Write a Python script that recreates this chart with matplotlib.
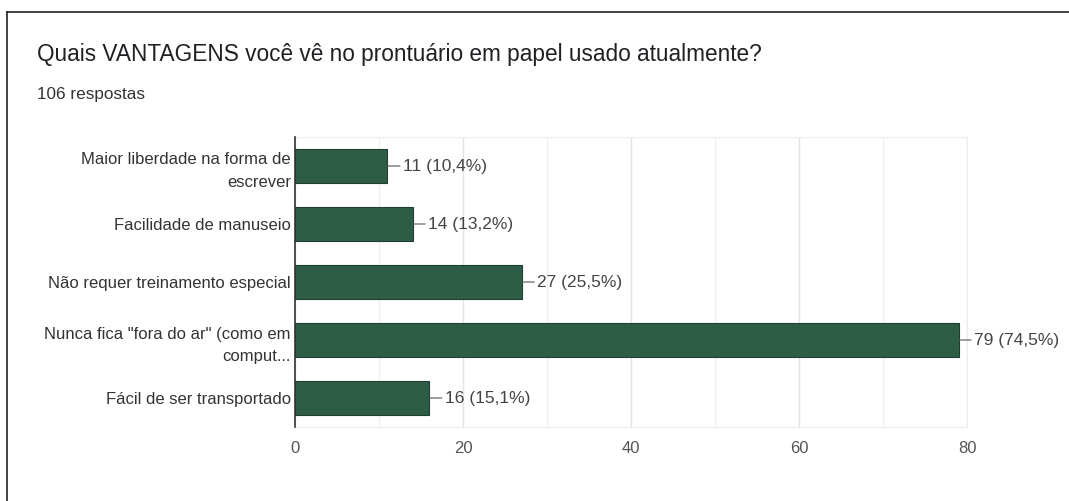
import matplotlib.pyplot as plt
from matplotlib.lines import Line2D
from matplotlib.ticker import MultipleLocator

plt.rcParams['font.family'] = ['Liberation Sans', 'DejaVu Sans']

categorias = ["Maior liberdade na forma de\nescrever",
              "Facilidade de manuseio",
              "Não requer treinamento especial",
              "Nunca fica \"fora do ar\" (como em\ncomput...",
              "Fácil de ser transportado"]
respostas = [11, 14, 27, 79, 16]
percentuais = ["10,4%", "13,2%", "25,5%", "74,5%", "15,1%"]
total = 106
ticks_x = [0, 20, 40, 60, 80]

fig = plt.figure(figsize=(10.69, 5.01), dpi=100)
W, H = 1069, 501
ax = fig.add_axes([295 / W, 1 - 427 / H, (967 - 295) / W, (427 - 137) / H])

y = list(range(len(categorias)))
ax.barh(y, respostas, height=0.6, color='#2e5d47', edgecolor='#1f3f30', linewidth=0.8, zorder=3)
ax.set_ylim(len(categorias) - 0.5, -0.5)
ax.set_xlim(0, 80)
ax.set_yticks(y)
ax.set_yticklabels(categorias, fontsize=12, color='#333333', linespacing=1.6)
ax.set_xticks(ticks_x)
ax.xaxis.set_minor_locator(MultipleLocator(10))
ax.tick_params(axis='x', which='both', length=0, pad=10, labelsize=12, labelcolor='#555555')
ax.tick_params(axis='y', length=0, pad=3)
ax.grid(axis='x', which='major', color='#e3e3e3', linewidth=1, zorder=0)
ax.grid(axis='x', which='minor', color='#efefef', linewidth=1, zorder=0)
for s in ['top', 'bottom', 'right']:
    ax.spines[s].set_color('#ececec')
ax.spines['left'].set_color('#333333')
ax.spines['left'].set_linewidth(1.2)
ax.spines['left'].set_zorder(4)

for i, (v, p) in enumerate(zip(respostas, percentuais)):
    ax.annotate(f"{v} ({p})", xy=(v, i), xytext=(11, 0), textcoords='offset points',
                va='center', ha='left', fontsize=12.5, color='#444444',
                arrowprops=dict(arrowstyle='-', color='#555555', lw=0.8, shrinkA=0, shrinkB=0))

fig.text(37 / W, 1 - 55 / H, "Quais VANTAGENS você vê no prontuário em papel usado atualmente?",
         fontsize=16.3, color='#202124', va='center', ha='left')
fig.text(37 / W, 1 - 95 / H, f"{total} respostas", fontsize=12.3, color='#333333', va='center', ha='left')

# moldura da captura
fig.add_artist(Line2D([7 / W, 1], [1 - 12 / H, 1 - 12 / H], color='#222222', lw=1.2))
fig.add_artist(Line2D([7 / W, 7 / W], [0, 1 - 12 / H], color='#222222', lw=1.2))

fig.savefig('out.png', dpi=100)
